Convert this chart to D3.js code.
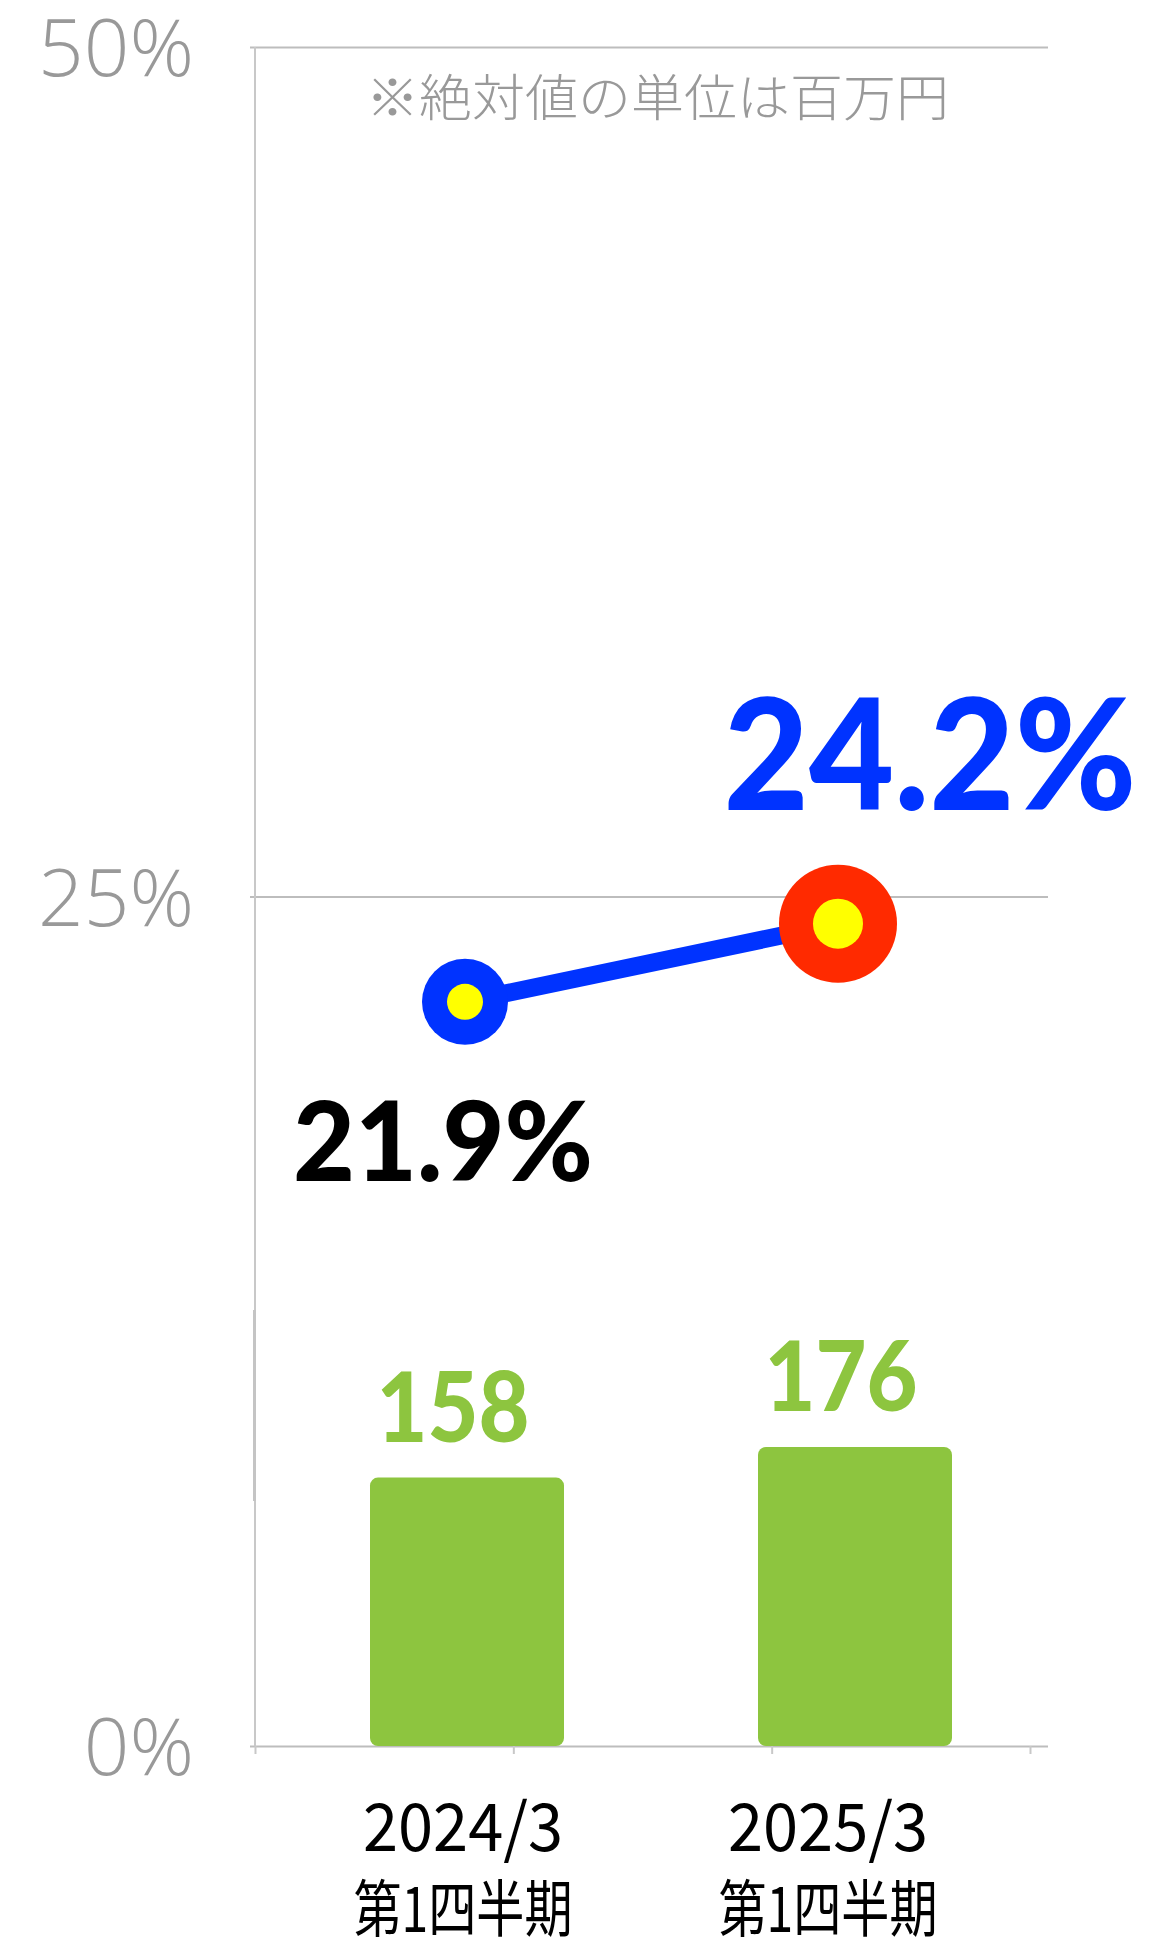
<!DOCTYPE html>
<html>
<head>
<meta charset="utf-8">
<script src="https://cdn.jsdelivr.net/npm/d3@7"></script>
<style>
  html, body { margin: 0; padding: 0; background: #fff; }
  svg { display: block; }
</style>
</head>
<body>
<svg id="chart" width="1153" height="1942"></svg>
<script>
const categories = ['2024/3', '2025/3']
const periodLabels = ['第1四半期', '第1四半期']
const salesValues = [158, 176] // 百万円
const marginRates = [21.9, 24.2] // %
const rateTicks = [0, 25, 50]
const noteText = '※絶対値の単位は百万円'

const svg = d3.select('#chart')
const grey = '#bdbdbd'
const green = '#8dc53f'

// scales: left axis in %, hidden right axis for the bars
const y = d3.scaleLinear().domain([0, 50]).range([1746, 47])
const yBar = d3.scaleLinear().domain([0, 1000]).range([1746, 47])
const xBar = d3.scaleBand().domain(categories).range([273, 1049])
    .paddingInner(0.5).paddingOuter(0.25)
const xLine = d3.scalePoint().domain(categories).range([465, 838])
const xLabel = d3.scalePoint().domain(categories).range([463, 828])
const xTick = d3.scaleLinear().domain([0, 3]).range([255, 1030])

// gridlines + % labels
const yAxis = svg.append('g')
    .attr('transform', 'translate(250,0)')
    .call(d3.axisLeft(y).tickValues(rateTicks).tickSize(-798).tickPadding(56)
      .tickFormat(d => d + '%'))
yAxis.select('.domain').remove()
yAxis.selectAll('line').attr('stroke', grey).attr('stroke-width', 2)
yAxis.selectAll('text')
    .attr('dy', '0.36em')
    .attr('fill', '#999')
    .style('font-family', '"Open Sans", Lato, sans-serif')
    .style('font-weight', 300)
    .style('font-size', '80px')

// vertical axis line
svg.append('line')
    .attr('x1', 255).attr('x2', 255)
    .attr('y1', y(50)).attr('y2', y(0))
    .attr('stroke', '#c8c8c8').attr('stroke-width', 2)
svg.append('line')
    .attr('x1', 254.5).attr('x2', 254.5)
    .attr('y1', 1310).attr('y2', 1501)
    .attr('stroke', '#c4c4c4').attr('stroke-width', 3)

// small bottom ticks
const xAxis = svg.append('g')
    .attr('transform', `translate(0,${y(0)})`)
    .call(d3.axisBottom(xTick).ticks(3).tickSize(8).tickFormat(''))
xAxis.select('.domain').remove()
xAxis.selectAll('line').attr('stroke', '#c8c8c8').attr('stroke-width', 2)

// note
svg.append('text')
    .attr('x', 366).attr('y', 116)
    .attr('textLength', 583).attr('lengthAdjust', 'spacingAndGlyphs')
    .attr('fill', '#999')
    .style('font-family', '"Noto Sans CJK JP", sans-serif')
    .style('font-weight', 300)
    .style('font-size', '50px')
    .text(noteText)

// bars
svg.append('g').selectAll('rect')
  .data(salesValues)
  .join('rect')
    .attr('x', (d, i) => xBar(categories[i]))
    .attr('y', d => yBar(d))
    .attr('width', xBar.bandwidth())
    .attr('height', d => yBar(0) - yBar(d))
    .attr('rx', 8)
    .attr('fill', green)

svg.append('g').selectAll('text')
  .data(salesValues)
  .join('text')
    .attr('x', (d, i) => xBar(categories[i]) + xBar.bandwidth() / 2 - 14)
    .attr('y', d => yBar(d) - 36)
    .attr('text-anchor', 'middle')
    .attr('fill', green)
    .attr('textLength', 153)
    .attr('lengthAdjust', 'spacingAndGlyphs')
    .style('font-family', 'Lato, sans-serif')
    .style('font-weight', 900)
    .style('font-size', '98px')
    .text(d => d)

// margin line
const pts = marginRates.map((d, i) => [xLine(categories[i]), y(d)])
svg.append('path')
    .attr('d', d3.line()(pts))
    .attr('fill', 'none')
    .attr('stroke', '#0033ff')
    .attr('stroke-width', 18)

const last = marginRates.length - 1
const marks = svg.append('g').selectAll('g')
  .data(pts)
  .join('g')
    .attr('transform', d => `translate(${d[0]},${d[1]})`)
marks.append('circle')
    .attr('r', (d, i) => i === last ? 59 : 43)
    .attr('fill', (d, i) => i === last ? '#ff2a00' : '#0033ff')
marks.append('circle')
    .attr('r', (d, i) => i === last ? 25 : 18)
    .attr('fill', '#ffff00')

// rate labels
svg.append('g').selectAll('text')
  .data(marginRates)
  .join('text')
    .attr('x', (d, i) => pts[i][0] + (i === last ? 92 : -22))
    .attr('y', (d, i) => pts[i][1] + (i === last ? -114 : 179))
    .attr('text-anchor', 'middle')
    .attr('fill', (d, i) => i === last ? '#0033ff' : '#000')
    .attr('textLength', (d, i) => i === last ? 413 : 300)
    .attr('lengthAdjust', 'spacingAndGlyphs')
    .style('font-family', 'Lato, sans-serif')
    .style('font-weight', 900)
    .style('font-size', (d, i) => i === last ? '154px' : '111px')
    .text(d => d.toFixed(1) + '%')

// category labels
const catText = svg.append('g').selectAll('g')
  .data(categories)
  .join('g')
    .attr('transform', d => `translate(${xLabel(d)},0)`)
    .style('font-family', '"Noto Sans CJK JP", sans-serif')
    .attr('fill', '#000')
    .attr('text-anchor', 'middle')
catText.append('text')
    .attr('y', 1851)
    .attr('textLength', 200).attr('lengthAdjust', 'spacingAndGlyphs')
    .style('font-size', '66px')
    .text(d => d)
catText.append('text')
    .attr('y', 1932)
    .attr('textLength', 219).attr('lengthAdjust', 'spacingAndGlyphs')
    .style('font-size', '62px')
    .text((d, i) => periodLabels[i])
</script>
</body>
</html>
